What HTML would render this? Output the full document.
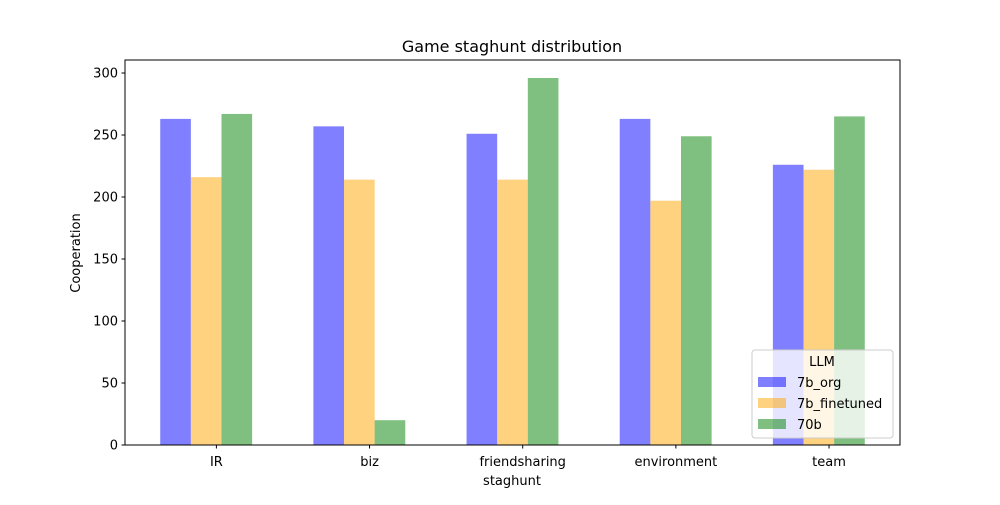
<!DOCTYPE html>
<html><head><meta charset="utf-8"><style>
body{margin:0;background:#fff;font-family:"Liberation Sans","DejaVu Sans",sans-serif;}
svg text{font-family:"DejaVu Sans","Liberation Sans",sans-serif;fill:#000;}
</style></head><body>
<svg id="c" width="1000" height="500" xmlns="http://www.w3.org/2000/svg"></svg>
<script>
const categories=["IR","biz","friendsharing","environment","team"];
const seriesNames=["7b_org","7b_finetuned","70b"];
const org=[263,257,251,263,226];
const finetuned=[216,214,214,197,222];
const b70=[267,20,296,249,265];
const yTicks=[0,50,100,150,200,250,300];
const colors=["rgba(0,0,255,0.5)","rgba(255,165,0,0.5)","rgba(0,128,0,0.5)"];
const L=125,R=900,T=60,B=445;
const xmin=-0.33,xmax=4.73,ymin=0,ymax=310.5;
const sx=v=>L+(v-xmin)/(xmax-xmin)*(R-L);
const sy=v=>B-(v-ymin)/(ymax-ymin)*(B-T);
const svg=document.getElementById('c');const NS="http://www.w3.org/2000/svg";
function mk(t,a,txt){const e=document.createElementNS(NS,t);for(const k in a)e.setAttribute(k,a[k]);if(txt!==undefined)e.textContent=txt;svg.appendChild(e);return e;}
const all=[org,finetuned,b70];const w=0.2;
all.forEach((s,si)=>s.forEach((v,i)=>{const x0=sx(i+si*w-w/2),x1=sx(i+si*w+w/2);
const r=mk('rect',{x:x0,y:sy(v),width:x1-x0,height:sy(0)-sy(v),fill:colors[si]});

}));
mk('rect',{x:L,y:T,width:R-L,height:B-T,fill:'none',stroke:'#000','stroke-width':1,});
yTicks.forEach(v=>{mk('line',{x1:L-3.5,x2:L,y1:sy(v),y2:sy(v),stroke:'#000'});
const t=mk('text',{x:L-7,y:sy(v)+4.5,'text-anchor':'end','font-size':13},v);
});
categories.forEach((c,i)=>{const x=sx(i+w*4/3);mk('line',{x1:x,x2:x,y1:B,y2:B+3.5,stroke:'#000'});
const t=mk('text',{x:x,y:B+21,'text-anchor':'middle','font-size':13},c);
});
mk('text',{x:512,y:52,'text-anchor':'middle','font-size':16,},'Game staghunt distribution');
mk('text',{x:512,y:485,'text-anchor':'middle','font-size':13,},'staghunt');
mk('text',{x:0,y:0,'text-anchor':'middle','font-size':13,transform:'translate(80,253) rotate(-90)',},'Cooperation');
mk('rect',{x:752,y:350,width:141,height:88,rx:3,fill:'rgba(255,255,255,0.8)',stroke:'#ccc',});
mk('text',{x:822,y:366,'text-anchor':'middle','font-size':13,},'LLM');
seriesNames.forEach((n,i)=>{const y=382+i*21;
mk('rect',{x:758,y:y-5,width:28,height:10,fill:colors[i],});
mk('text',{x:797,y:y+5,'font-size':13,},n);});
</script>
</body></html>
